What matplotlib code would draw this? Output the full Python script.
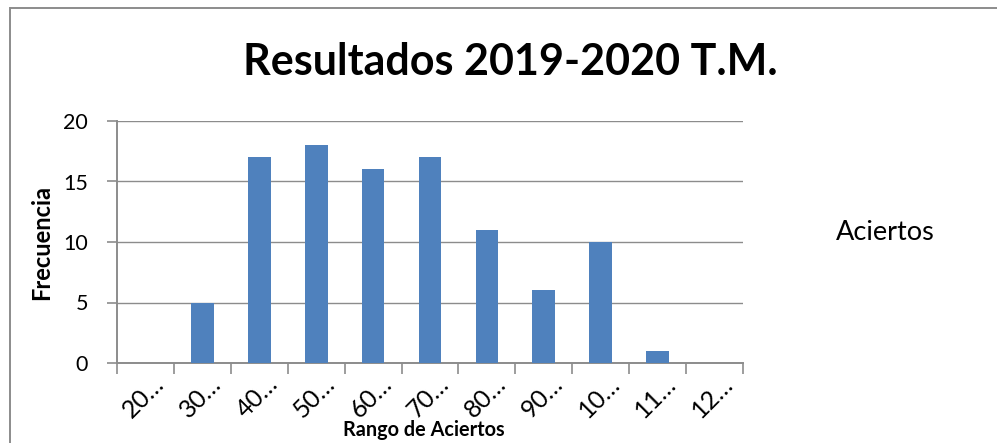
import matplotlib
matplotlib.use("Agg")
import matplotlib.pyplot as plt
from matplotlib.lines import Line2D

categories = ["20…", "30…", "40…", "50…", "60…", "70…", "80…", "90…", "10…", "11…", "12…"]
frecuencia = [0, 5, 17, 18, 16, 17, 11, 6, 10, 1, 0]
yticks = [0, 5, 10, 15, 20]
title = "Resultados 2019-2020 T.M."
xlabel = "Rango de Aciertos"
ylabel = "Frecuencia"
legend_label = "Aciertos"

W, H = 997, 443
plt.rcParams['font.family'] = ['Lato', 'DejaVu Sans']
fig = plt.figure(figsize=(W / 100, H / 100), dpi=100)
fig.patch.set_facecolor('white')

# outer chart frame: only top and left edges are inside the picture
fx, fy = 9.5 / W, 1 - 7.5 / H
fig.add_artist(Line2D([fx, 1.0], [fy, fy], transform=fig.transFigure,
                      color='#8c8c8c', linewidth=1.4, solid_capstyle='butt'))
fig.add_artist(Line2D([fx, fx], [0.0, fy], transform=fig.transFigure,
                      color='#8c8c8c', linewidth=1.4, solid_capstyle='projecting'))

ax = fig.add_axes([117 / W, 1 - 363 / H, 626 / W, 242 / H])
x = list(range(len(categories)))
ax.bar(x, frecuencia, width=0.4, color='#4F81BD', zorder=3)
ax.set_xlim(-0.5, len(categories) - 0.5)
ax.set_ylim(0, 20)
ax.set_yticks(yticks)
ax.grid(axis='y', color='#8c8c8c', linewidth=1.0, zorder=0)
for s in ['top', 'right']:
    ax.spines[s].set_visible(False)
for s in ['left', 'bottom']:
    ax.spines[s].set_color('#8c8c8c')
    ax.spines[s].set_linewidth(1.4)
ax.tick_params(axis='y', length=7, width=1.2, color='#8c8c8c', pad=14, labelsize=15.5)
ax.set_xticks([i - 0.5 for i in range(len(categories) + 1)])
ax.set_xticklabels([])
ax.tick_params(axis='x', length=8, width=1.2, color='#8c8c8c')
for i, c in enumerate(categories):
    ax.text(i - 0.03, -0.7, c, rotation=45, ha='center', va='top', fontsize=18,
            transform=ax.transData)

fig.text(510 / W, 1 - 62 / H, title, ha='center', va='center',
         fontsize=31, fontweight='bold')
fig.text(424 / W, 1 - 430 / H, xlabel, ha='center', va='center',
         fontsize=14.3, fontweight='bold')
fig.text(42 / W, 1 - 242 / H, ylabel, ha='center', va='center',
         fontsize=17, fontweight='bold', rotation=90)
fig.text(885 / W, 1 - 233 / H, legend_label, ha='center', va='center', fontsize=19.5)

fig.savefig("out.png", dpi=100)
